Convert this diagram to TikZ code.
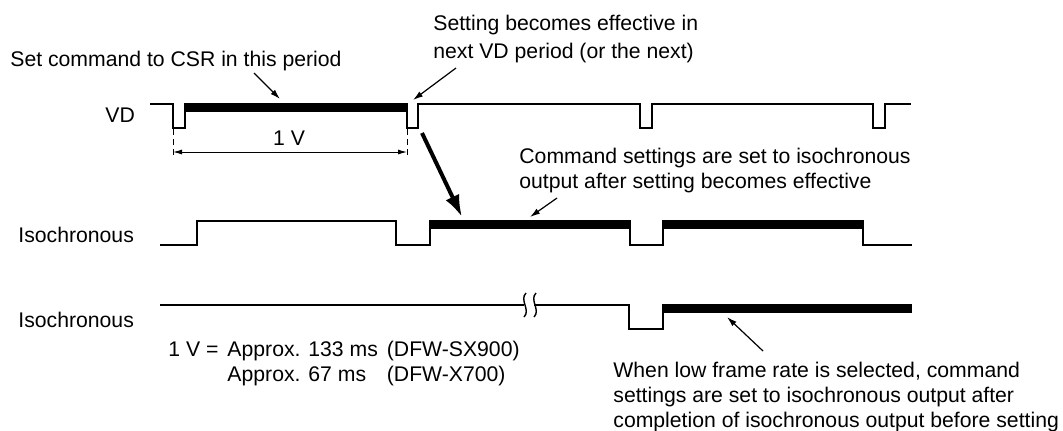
\documentclass[tikz,border=0pt]{standalone}
\usepackage{fontspec}
\setmainfont{Liberation Sans}
\usetikzlibrary{arrows.meta}

\tikzset{
  sig/.style={line width=1pt, line join=miter},
  busy/.style={fill=black, draw=none},
  note/.style={-{Latex[length=5pt,width=3pt]}, line width=0.6pt},
  txt/.style={inner sep=0pt, anchor=base west, align=left},
}

\begin{document}
\begin{tikzpicture}[x=0.5pt, y=-0.5pt, font=\fontsize{10.6}{12.5}\selectfont]
\useasboundingbox (0,0) rectangle (1063,430);

% signal names
\node[txt] (vd) at (105,122) {VD};
\node[txt] (iso1) at (18,242) {Isochronous};
\node[txt] (iso2) at (18,327) {Isochronous};

% VD
\draw[sig] (150,104) -- (173,104) -- (173,128) -- (185,128) -- (185,104)
  -- (407,104) -- (407,128) -- (418,128) -- (418,104)
  -- (640,104) -- (640,128) -- (652,128) -- (652,104)
  -- (873,104) -- (873,128) -- (885,128) -- (885,104) -- (911,104);
\fill[busy] (185,103) rectangle (408,112);

% Isochronous (normal)
\draw[sig] (160,245) -- (197,245) -- (197,221) -- (396,221) -- (396,245)
  -- (430,245) -- (430,221) -- (630,221) -- (630,245) -- (663,245)
  -- (663,221) -- (863,221) -- (863,245) -- (912,245);
\fill[busy] (430,220) rectangle (630,229);
\fill[busy] (663,220) rectangle (863,229);

% Isochronous (low frame rate)
\draw[sig] (160,305) -- (524,305);
\draw[sig] (534,305) -- (629,305) -- (629,329) -- (663,329) -- (663,305) -- (912,305);
\fill[busy] (663,304) rectangle (912,313);
\draw[line width=0.7pt] (526,293) .. controls (519,300) and (531,310) .. (524,317);
\draw[line width=0.7pt] (536,293) .. controls (529,300) and (541,310) .. (534,317);

% 1 V period
\draw[line width=0.5pt, dash pattern=on 3pt off 2pt] (173,129) -- (173,158);
\draw[line width=0.5pt, dash pattern=on 3pt off 2pt] (407,129) -- (407,158);
\coordinate (pa) at (173,152);
\coordinate (pb) at (407,152);
\draw[{Latex[length=4.5pt,width=2.5pt]}-{Latex[length=4.5pt,width=2.5pt]}, line width=0.5pt] (pa) -- (pb);
\node[inner sep=0pt, anchor=base] (period) at (289,145) {1 V};

% notes (base = last line)
\node[txt] (setcmd) at (10,66) {Set command to CSR in this period};
\node[txt, font=\fontsize{10.6}{13.75}\selectfont] (effective) at (433,58)
  {Setting becomes effective in\\next VD period (or the next)};
\node[txt] (cmdset) at (519,188)
  {Command settings are set to isochronous\\output after setting becomes effective};
\node[txt] (lowrate) at (613,427)
  {When low frame rate is selected, command\\settings are set to isochronous output after\\completion of isochronous output before setting};
\node[txt] (onev) at (168,356)
  {\begin{tabular}[t]{@{}l@{\hspace{4.5pt}}l@{\hspace{4.5pt}}l@{}}
   1 V = & Approx. 133 ms & (DFW-SX900)\\
         & Approx. 67 ms  & (DFW-X700)
   \end{tabular}};

\coordinate (a1) at (254,73);  \coordinate (b1) at (280,99);
\coordinate (a2) at (456,68);  \coordinate (b2) at (413,100);
\coordinate (a3) at (557,198); \coordinate (b3) at (530,217);
\coordinate (a4) at (763,351); \coordinate (b4) at (727,317);
\coordinate (a5) at (422,133); \coordinate (b5) at (462,217);
\draw[note] (a1) -- (b1);
\draw[note] (a2) -- (b2);
\draw[note] (a3) -- (b3);
\draw[note] (a4) -- (b4);
\draw[-{Latex[length=11pt,width=7.5pt]}, line width=2pt] (a5) -- (b5);
\end{tikzpicture}
\end{document}
